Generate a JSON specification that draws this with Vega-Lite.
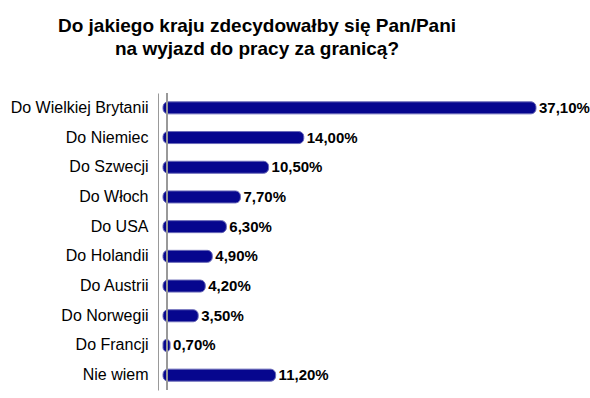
{
  "$schema": "https://vega.github.io/schema/vega-lite/v6.json",
  "width": 378,
  "height": 297,
  "autosize": "none",
  "padding": {"left": 158, "top": 93, "right": 54, "bottom": 8},
  "background": "white",
  "title": {
    "text": ["Do jakiego kraju zdecydowałby się Pan/Pani", "na wyjazd do pracy za granicą?"],
    "anchor": "middle",
    "dx": -90,
    "offset": 19,
    "baseline": "alphabetic",
    "lineHeight": 23,
    "font": "Liberation Sans",
    "fontSize": 19,
    "fontWeight": "bold",
    "color": "#000000"
  },
  "data": {
    "values": [
      {"kraj": "Do Wielkiej Brytanii", "value": 37.1, "label": "37,10%"},
      {"kraj": "Do Niemiec", "value": 14.0, "label": "14,00%"},
      {"kraj": "Do Szwecji", "value": 10.5, "label": "10,50%"},
      {"kraj": "Do Włoch", "value": 7.7, "label": "7,70%"},
      {"kraj": "Do USA", "value": 6.3, "label": "6,30%"},
      {"kraj": "Do Holandii", "value": 4.9, "label": "4,90%"},
      {"kraj": "Do Austrii", "value": 4.2, "label": "4,20%"},
      {"kraj": "Do Norwegii", "value": 3.5, "label": "3,50%"},
      {"kraj": "Do Francji", "value": 0.7, "label": "0,70%"},
      {"kraj": "Nie wiem", "value": 11.2, "label": "11,20%"}
    ]
  },
  "layer": [
    {
      "mark": {"type": "bar", "size": 12, "cornerRadius": 5, "fill": "#06068e", "stroke": "#6a6ab8", "strokeWidth": 1},
      "encoding": {
        "y": {
          "field": "kraj",
          "type": "nominal",
          "sort": null,
          "scale": {"paddingInner": 0, "paddingOuter": 0},
          "axis": {
            "title": null,
            "ticks": false,
            "labelPadding": 10,
            "labelFont": "Liberation Sans",
            "labelFontSize": 16,
            "labelColor": "#000000",
            "domainColor": "#999999",
            "domainWidth": 1
          }
        },
        "x": {
          "field": "value",
          "type": "quantitative",
          "scale": {"domain": [-0.5, 37.1], "nice": false, "zero": false},
          "axis": null
        },
        "x2": {"datum": 0}
      }
    },
    {
      "mark": {"type": "rule", "color": "#999999", "strokeWidth": 1},
      "encoding": {"x": {"datum": 0.4, "type": "quantitative"}}
    },
    {
      "mark": {"type": "text", "align": "left", "baseline": "middle", "dx": 3, "font": "Liberation Sans", "fontSize": 15, "fontWeight": "bold", "color": "#000000"},
      "encoding": {
        "y": {"field": "kraj", "type": "nominal", "sort": null},
        "x": {"field": "value", "type": "quantitative"},
        "text": {"field": "label"}
      }
    }
  ],
  "config": {"view": {"stroke": null}}
}
